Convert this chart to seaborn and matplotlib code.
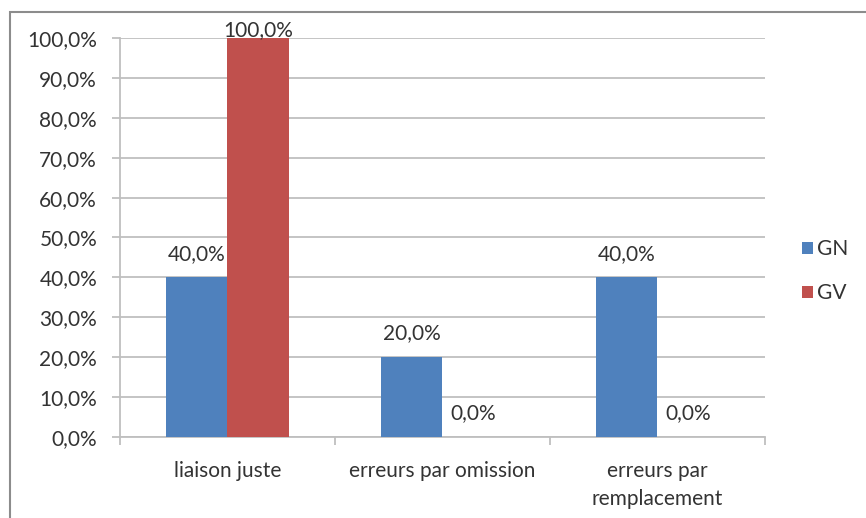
import numpy as np
import pandas as pd
import matplotlib.pyplot as plt
import matplotlib.patches as patches
from matplotlib.ticker import FuncFormatter, MultipleLocator
import seaborn as sns

# data
categories = ['liaison juste', 'erreurs par omission', 'erreurs par\nremplacement']
gn = [0.40, 0.20, 0.40]
gv = [1.00, 0.00, 0.00]
series = ['GN', 'GV']

df = pd.DataFrame({
    'categorie': categories * 2,
    'serie': ['GN'] * 3 + ['GV'] * 3,
    'valeur': gn + gv,
})

sns.set_style('white')
plt.rcParams['font.family'] = ['Lato', 'DejaVu Sans']

fs = 15
txt_c = '#333333'
fig = plt.figure(figsize=(8.66, 5.18), dpi=100)
ax = fig.add_axes([120/866, 1-437/518, 645/866, 399/518])

grid_c = '#BFBFBF'
sns.barplot(data=df, x='categorie', y='valeur', hue='serie', order=categories,
            hue_order=series, palette=['#4F81BD', '#C0504D'], width=0.575,
            saturation=1, linewidth=0, ax=ax, zorder=3)

ax.set_ylim(0, 1.0)
ax.set_xlim(-0.5, 2.5)
ax.yaxis.set_major_locator(MultipleLocator(0.1))
ax.yaxis.set_major_formatter(FuncFormatter(lambda v, p: f'{v*100:.1f}%'.replace('.', ',')))
ax.grid(axis='y', color=grid_c, lw=1.3, zorder=0)
ax.set_axisbelow(True)
ax.set_xlabel('')
ax.set_ylabel('')

for s in ['top', 'right']:
    ax.spines[s].set_visible(False)
for s in ['left', 'bottom']:
    ax.spines[s].set_color(grid_c)
    ax.spines[s].set_linewidth(1.3)

ax.tick_params(axis='y', length=6, color=grid_c, width=1.3, labelsize=fs,
               labelcolor=txt_c, pad=10.5, left=True)
ax.set_xticks(range(3))
ax.set_xticklabels(categories, linespacing=1.55)
ax.tick_params(axis='x', length=0, labelsize=fs, labelcolor=txt_c, pad=17)
# tick marks between categories
ax.set_xticks([-0.5, 0.5, 1.5, 2.5], minor=True)
ax.tick_params(axis='x', which='minor', length=6, color=grid_c, width=1.3, bottom=True)

for cont in ax.containers:
    for bar in cont:
        h = bar.get_height()
        off = 17 if h < 0.95 else 6
        ax.annotate(f'{h*100:.1f}%'.replace('.', ','),
                    (bar.get_x() + bar.get_width()/2, h),
                    xytext=(0, off), textcoords='offset points',
                    ha='center', va='center', fontsize=fs, color=txt_c,
                    annotation_clip=False, zorder=5)

leg = ax.legend(loc='center left', bbox_to_anchor=(1.028, 0.415), frameon=False,
                fontsize=fs, handlelength=0.55, handleheight=0.55,
                handletextpad=0.2, labelspacing=1.15)
for t in leg.get_texts():
    t.set_color(txt_c)

fig.patches.append(patches.Rectangle((10/866, -0.02), 1.0, 1-12/518+0.02,
                                     transform=fig.transFigure, fill=False,
                                     edgecolor='#8C8C8C', lw=1.5))

fig.savefig('out.png', dpi=100)
